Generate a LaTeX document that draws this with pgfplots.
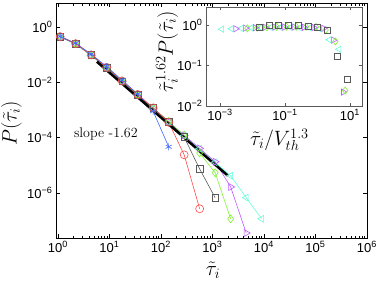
\documentclass[border=0pt]{standalone}
\usepackage{fontspec}
\usepackage{pgfplots}
\pgfplotsset{compat=1.18}
\newfontfamily\arial{Liberation Sans}
\newcommand{\tl}[1]{{\arial 10\textsuperscript{#1}}}
\definecolor{sblue}{rgb}{0.25,0.4,1}
\definecolor{sred}{rgb}{1,0.3,0.3}
\definecolor{sgray}{rgb}{0.35,0.35,0.35}
\definecolor{sgreen}{rgb}{0.5,0.95,0.2}
\definecolor{smag}{rgb}{0.75,0.35,1}
\definecolor{scyan}{rgb}{0.4,1,0.85}
\begin{document}
\begin{tikzpicture}[x=1pt,y=1pt]
\path[use as bounding box] (0,0) rectangle (382,281);
\begin{axis}[at={(56pt,43pt)}, anchor=south west, scale only axis,
  width=311pt, height=235pt,
  xmode=log, ymode=log, xmin=0.915, xmax=1e6, ymin=2.37e-8, ymax=7.36,
  xtick={1,10,100,1000,10000,100000,1000000},
  xticklabels={\tl{0},\tl{1},\tl{2},\tl{3},\tl{4},\tl{5},\tl{6}},
  ytick={1e-6,1e-4,1e-2,1}, yticklabels={\tl{−6},\tl{−4},\tl{−2},\tl{0}},
  yminorticks=false,
  tick label style={font=\fontsize{13}{15}\selectfont},
  axis line style={line width=0.8pt},
  major tick length=4pt, minor tick length=2.5pt,
  tick style={line width=0.6pt, black},
  xlabel={$\tilde{\tau}_i$}, ylabel={$P(\tilde{\tau}_i)$},
  xlabel style={font=\fontsize{20}{22}\selectfont, inner sep=0pt, at={(axis description cs:0.505,-0.136)}, anchor=center},
  ylabel style={font=\fontsize{20}{22}\selectfont, inner sep=0pt, at={(axis description cs:-0.143,0.489)}, anchor=center},
  every axis plot/.append style={line width=0.6pt},
  clip=false,
]
\addplot[scyan, mark=triangle, mark size=4pt, mark options={rotate=90}] coordinates {
(1.1,0.43) (2.2,0.24) (4.4,0.093) (8.8,0.033) (17.6,0.0105) (35.2,3.45e-3) (70.4,1.13e-3) (141,3.7e-4) (282,1.2e-4) (563,4.0e-5) (1126,1.3e-5) (2253,4.2e-6) (4506,6.8e-7) (9011,1.17e-7)};
\addplot[smag, mark=triangle, mark size=4pt, mark options={rotate=-90}] coordinates {
(1.1,0.44) (2.2,0.245) (4.4,0.094) (8.8,0.034) (17.6,0.0108) (35.2,3.5e-3) (70.4,1.16e-3) (141,3.75e-4) (282,1.22e-4) (563,4.1e-5) (1126,1.35e-5) (2253,1.66e-6) (4506,3.6e-8)};
\addplot[sgreen, mark=diamond, mark size=4pt] coordinates {
(1.1,0.45) (2.2,0.25) (4.4,0.096) (8.8,0.034) (17.6,0.011) (35.2,3.55e-3) (70.4,1.17e-3) (141,3.8e-4) (282,1.23e-4) (563,2.8e-5) (1126,5.4e-6) (2253,1.17e-7)};
\addplot[sgray, mark=square, mark size=3.3pt] coordinates {
(1.1,0.44) (2.2,0.25) (4.4,0.097) (8.8,0.034) (17.6,0.011) (35.2,3.6e-3) (70.4,1.18e-3) (141,3.8e-4) (282,1.05e-4) (563,7.4e-6) (1126,6.8e-7)};
\addplot[sred, mark=o, mark size=4pt] coordinates {
(1.1,0.45) (2.2,0.25) (4.4,0.098) (8.8,0.035) (17.6,0.0112) (35.2,3.65e-3) (70.4,1.2e-3) (141,3.6e-4) (282,2.4e-5) (563,2.7e-7)};
\addplot[sblue, mark=asterisk, mark size=3.5pt] coordinates {
(1.1,0.46) (2.2,0.26) (4.4,0.105) (8.8,0.037) (17.6,0.012) (35.2,3.8e-3) (70.4,9.0e-4) (141,4.7e-5)};
\addplot[black, line width=2.5pt, no marks] coordinates {(5.7,0.0555) (2000,4.2e-6)};
\node[font=\fontsize{14}{16}\selectfont] at (axis cs:8.5,1.38e-4) {slope -1.62};
\end{axis}
\begin{axis}[at={(206pt,175pt)}, anchor=south west, scale only axis,
  width=156pt, height=99pt,
  xmode=log, ymode=log, xmin=3.7e-4, xmax=23.4, ymin=0.01, ymax=2.75,
  xtick={1e-3,1e-1,10}, xticklabels={\tl{−3},\tl{−1},\tl{1}},
  ytick={0.01,0.1,1}, yticklabels={\tl{−2},\tl{−1},\tl{0}},
  yminorticks=false,
  tick label style={font=\fontsize{13}{15}\selectfont},
  axis background/.style={fill=white},
  axis line style={line width=0.7pt, black!65},
  major tick length=3pt, minor tick length=2pt,
  tick style={line width=0.5pt, black!65},
  xlabel={$\tilde{\tau}_i/V_{th}^{1.3}$}, ylabel={$\tilde{\tau}_i^{1.62}P(\tilde{\tau}_i)$},
  xlabel style={font=\fontsize{20}{22}\selectfont, inner sep=0pt, at={(axis description cs:0.471,-0.343)}, anchor=center},
  ylabel style={font=\fontsize{20}{22}\selectfont, inner sep=0pt, at={(axis description cs:-0.25,0.545)}, anchor=center},
  every axis plot/.append style={line width=0.6pt, only marks},
]
\addplot[scyan, mark=triangle, mark size=3.6pt, mark options={rotate=90}] coordinates {
(1.13e-3,0.78) (2.25e-3,0.80) (4.5e-3,0.82) (9.0e-3,0.84) (0.018,0.85) (0.036,0.86) (0.072,0.86) (0.144,0.86) (0.288,0.85) (0.577,0.84) (1.15,0.80) (2.31,0.43) (4.61,0.25)};
\addplot[smag, mark=triangle, mark size=3.6pt, mark options={rotate=-90}] coordinates {
(3.03e-3,0.80) (6.07e-3,0.83) (0.0121,0.85) (0.0243,0.87) (0.0485,0.88) (0.097,0.88) (0.194,0.88) (0.388,0.87) (0.776,0.86) (1.55,0.82) (3.10,0.42) (6.21,0.022)};
\addplot[sgreen, mark=diamond, mark size=3.6pt] coordinates {
(6.95e-3,0.82) (0.0139,0.85) (0.0278,0.87) (0.0556,0.89) (0.111,0.90) (0.222,0.90) (0.445,0.90) (0.889,0.89) (1.78,0.75) (3.56,0.39) (7.11,0.024)};
\addplot[sgray, mark=square, mark size=3pt] coordinates {
(0.0159,0.89) (0.0318,0.95) (0.0637,0.95) (0.127,0.95) (0.255,0.95) (0.509,0.93) (1.02,0.85) (2.04,0.75) (4.07,0.166) (8.15,0.046)};
\end{axis}
\end{tikzpicture}
\end{document}
